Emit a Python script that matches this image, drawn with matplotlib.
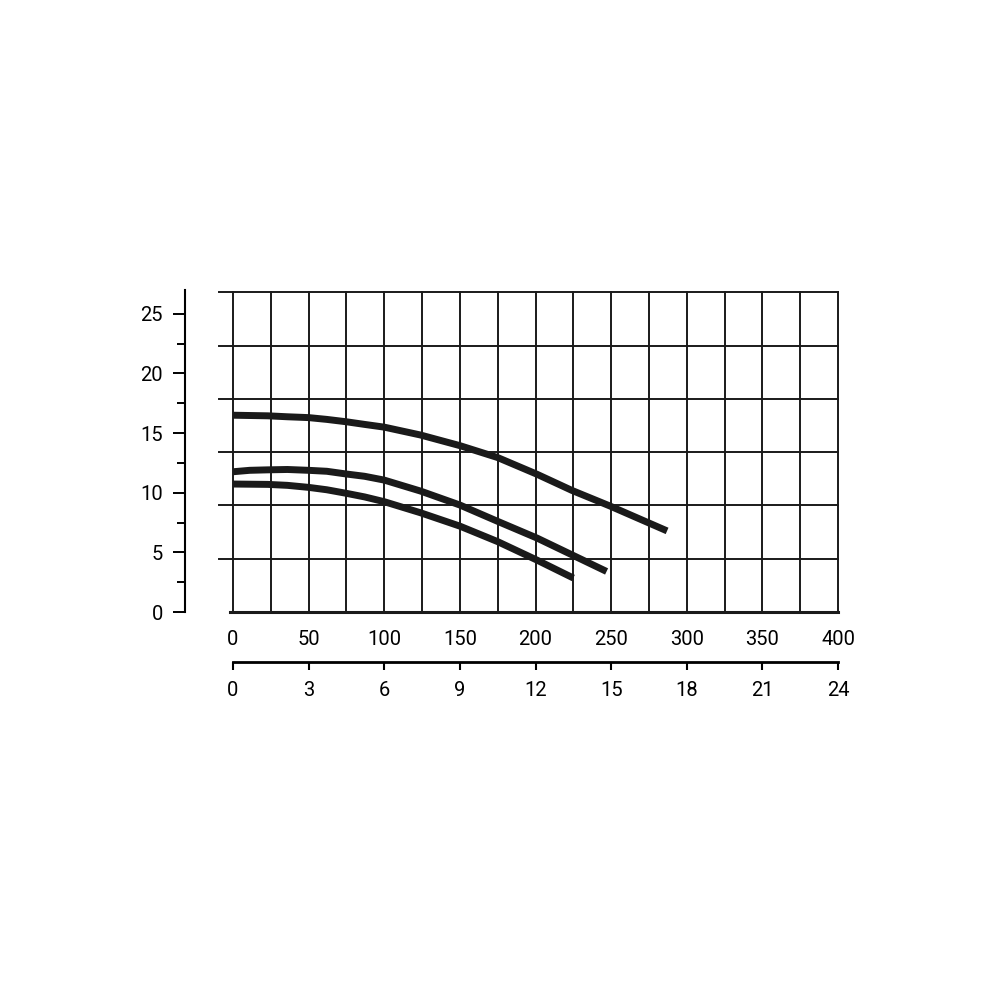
import matplotlib.pyplot as plt
import numpy as np

plt.rcParams['font.family'] = ['Roboto', 'DejaVu Sans']

# flow (0-400 scale) and head values
x_top = [0, 23, 36, 50, 62, 75, 87, 100, 124, 150, 175, 201, 224, 249, 287]
y_top = [16.5, 16.45, 16.37, 16.3, 16.15, 15.95, 15.73, 15.5, 14.84, 13.95, 12.95, 11.55, 10.2, 8.9, 6.8]

x_mid = [0, 11, 23, 36, 50, 62, 75, 87, 100, 124, 150, 175, 201, 224, 247]
y_mid = [11.76, 11.88, 11.92, 11.95, 11.88, 11.8, 11.57, 11.38, 11.06, 10.14, 8.97, 7.6, 6.2, 4.8, 3.4]

x_low = [0, 23, 36, 50, 62, 75, 87, 100, 124, 150, 175, 201, 225]
y_low = [10.73, 10.7, 10.62, 10.45, 10.25, 9.95, 9.65, 9.25, 8.32, 7.2, 5.9, 4.35, 2.85]

x_ticks = [0, 50, 100, 150, 200, 250, 300, 350, 400]
x2_ticks = [0, 3, 6, 9, 12, 15, 18, 21, 24]
y_ticks = [0, 5, 10, 15, 20, 25]

fig = plt.figure(figsize=(10, 10), dpi=100)
ax = fig.add_axes([0.233, 0.388, 0.605, 0.322])
ax.set_xlim(0, 400)
ax.set_ylim(0, 27)

# grid (does not line up with the head scale)
grid_top = 26.8
for gx in np.arange(0, 401, 25):
    ax.plot([gx, gx], [0, grid_top], color='#1a1a1a', lw=1.4, clip_on=False, zorder=1)
for gy in np.linspace(0, grid_top, 7)[1:]:
    ax.plot([-9, 400], [gy, gy], color='#1a1a1a', lw=1.4, clip_on=False, zorder=1)
ax.plot([-2, 400], [0, 0], color='#1a1a1a', lw=2.2, clip_on=False, zorder=1)

for xs, ys in [(x_top, y_top), (x_mid, y_mid), (x_low, y_low)]:
    ax.plot(xs, ys, color='#1a1a1a', lw=5, solid_capstyle='butt',
            solid_joinstyle='round', zorder=3)

for s in ['top', 'right', 'bottom']:
    ax.spines[s].set_visible(False)
ax.spines['left'].set_position(('outward', 34.5))
ax.spines['left'].set_linewidth(1.5)
ax.set_yticks(y_ticks)
ax.set_yticks(np.arange(2.5, 27, 5), minor=True)
ax.tick_params(axis='y', which='major', length=9, width=1.4, pad=7, labelsize=14.5)
ax.tick_params(axis='y', which='minor', length=5.5, width=1.4)

ax.set_xticks(x_ticks)
ax.tick_params(axis='x', length=0, pad=13, labelsize=14.5)

sec = ax.secondary_xaxis(-0.155, functions=(lambda v: v * 24 / 400, lambda v: v * 400 / 24))
sec.set_xticks(x2_ticks)
sec.spines['bottom'].set_linewidth(2)
sec.tick_params(length=6, width=1.5, pad=8, labelsize=14.5, direction='out')

fig.savefig('out.png', dpi=100, facecolor='white')
